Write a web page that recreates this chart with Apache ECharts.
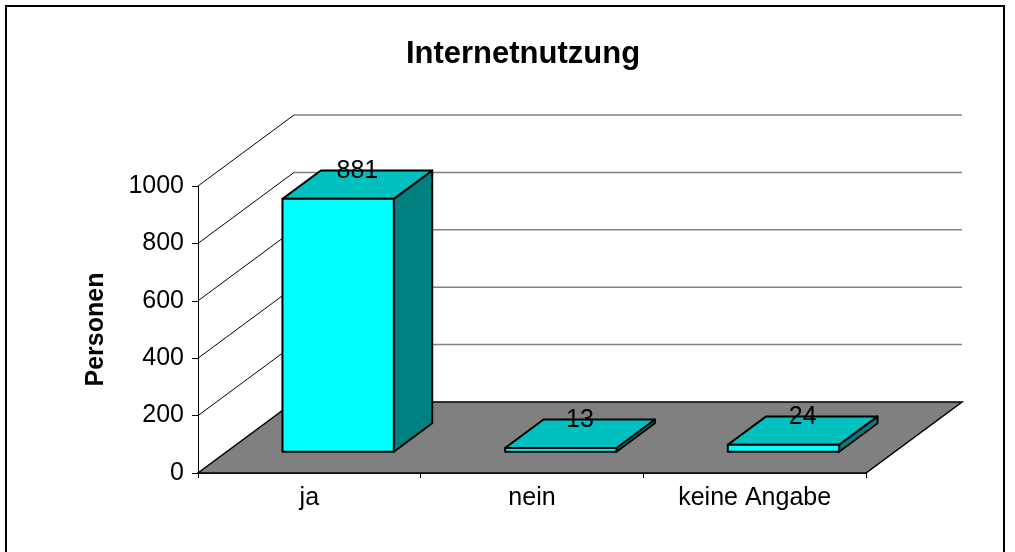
<!DOCTYPE html>
<html>
<head>
<meta charset="utf-8">
<script src="https://cdn.jsdelivr.net/npm/echarts@6/dist/echarts.min.js"></script>
<style>
  html, body { margin: 0; padding: 0; background: #fff; }
  #chart { width: 1015px; height: 552px; }
</style>
</head>
<body>
<div id="chart"></div>
<script>
// 차트 데이터
const categories = ['ja', 'nein', 'keine Angabe'];
const personen = [881, 13, 24];
const yTicks = [0, 200, 400, 600, 800, 1000];

// 3D 깊이 (앞면 -> 뒷벽)
const DEPTH_X = 96;
const DEPTH_Y = -71;
// 막대가 놓이는 깊이 구간 (0 = 앞, 1 = 뒤)
const BAR_FRONT = 0.3;
const BAR_BACK = 0.7;

const FONT = '"Liberation Sans", Arial, sans-serif';

const chart = echarts.init(document.getElementById('chart'), null, { renderer: 'canvas' });

// 바닥, 왼쪽 벽, 뒷벽 눈금선
function renderWalls(params, api) {
    const cs = params.coordSys;
    const L = cs.x;
    const R = cs.x + cs.width;
    const y = api.coord([0, api.value(1)])[1];
    const children = [];
    if (api.value(1) === 0) {
        children.push({
            type: 'polygon',
            shape: { points: [[L, y], [R, y], [R + DEPTH_X, y + DEPTH_Y], [L + DEPTH_X, y + DEPTH_Y]] },
            style: { fill: '#808080', stroke: '#000', lineWidth: 1.5 }
        });
    } else {
        children.push({
            type: 'line',
            shape: { x1: L, y1: y, x2: L + DEPTH_X, y2: y + DEPTH_Y },
            style: { stroke: '#000', lineWidth: 1 }
        });
        children.push({
            type: 'line',
            shape: { x1: L + DEPTH_X, y1: y + DEPTH_Y, x2: R + DEPTH_X, y2: y + DEPTH_Y },
            style: { stroke: '#808080', lineWidth: 1.5 }
        });
    }
    return { type: 'group', children: children };
}

// 3D 막대 (앞면, 윗면, 옆면 + 값 라벨)
function renderBar(params, api) {
    const idx = api.value(0);
    const val = api.value(1);
    const top = api.coord([idx, val]);
    const base = api.coord([idx, 0]);
    const band = api.size([1, 0])[0];
    const w = band * 0.5;
    const x0 = top[0] - w / 2;
    const x1 = top[0] + w / 2;
    const fx = DEPTH_X * BAR_FRONT, fy = DEPTH_Y * BAR_FRONT;
    const bx = DEPTH_X * BAR_BACK, by = DEPTH_Y * BAR_BACK;
    const yt = top[1];
    const yb = base[1];
    const edge = { stroke: '#000', lineWidth: 2, lineJoin: 'round' };
    return {
        type: 'group',
        children: [
            {
                type: 'polygon',
                shape: { points: [[x1 + fx, yt + fy], [x1 + bx, yt + by], [x1 + bx, yb + by], [x1 + fx, yb + fy]] },
                style: Object.assign({ fill: '#008080' }, edge)
            },
            {
                type: 'polygon',
                shape: { points: [[x0 + fx, yt + fy], [x0 + bx, yt + by], [x1 + bx, yt + by], [x1 + fx, yt + fy]] },
                style: Object.assign({ fill: '#00C0C0' }, edge)
            },
            {
                type: 'rect',
                shape: { x: x0 + fx, y: yt + fy, width: w, height: yb - yt },
                style: Object.assign({ fill: '#00FFFF' }, edge)
            },
            {
                type: 'text',
                x: top[0] + (fx + bx) / 2,
                y: yt + by + 1,
                style: {
                    text: String(val),
                    fill: '#000',
                    font: '25px ' + FONT,
                    textAlign: 'center',
                    textVerticalAlign: 'middle'
                }
            }
        ]
    };
}

const option = {
    backgroundColor: '#fff',
    animation: false,
    title: {
        text: 'Internetnutzung',
        left: 518,
        textAlign: 'center',
        top: 34,
        textStyle: { fontFamily: FONT, fontSize: 31, fontWeight: 'bold', color: '#000' }
    },
    graphic: [{
        type: 'rect',
        shape: { x: 6, y: 6, width: 998, height: 570 },
        style: { fill: 'none', stroke: '#000', lineWidth: 2 },
        silent: true
    }],
    grid: { left: 198, top: 186, width: 668, height: 287 },
    xAxis: {
        type: 'category',
        data: categories,
        axisLine: { lineStyle: { color: '#000', width: 1.5 } },
        axisTick: { show: true, length: 5, lineStyle: { color: '#000' } },
        axisLabel: { color: '#000', fontFamily: FONT, fontSize: 25, margin: 13 },
        splitLine: { show: false }
    },
    yAxis: {
        type: 'value',
        min: 0,
        max: 1000,
        interval: 200,
        name: 'Personen',
        nameLocation: 'middle',
        nameGap: 89,
        nameTextStyle: { color: '#000', fontFamily: FONT, fontSize: 25, fontWeight: 'bold' },
        axisLine: { show: true, lineStyle: { color: '#000', width: 1 } },
        axisTick: { show: true, length: 6, lineStyle: { color: '#000' } },
        axisLabel: { color: '#000', fontFamily: FONT, fontSize: 25, margin: 14, formatter: v => String(v) },
        splitLine: { show: false }
    },
    series: [
        {
            type: 'custom',
            name: 'Wände',
            renderItem: renderWalls,
            data: yTicks.map(v => [0, v]),
            encode: { x: 0, y: 1 },
            clip: false,
            silent: true,
            z: 1
        },
        {
            type: 'custom',
            name: 'Personen',
            renderItem: renderBar,
            data: personen.map((v, i) => [i, v]),
            encode: { x: 0, y: 1 },
            clip: false,
            z: 3
        }
    ]
};

chart.setOption(option);
</script>
</body>
</html>
